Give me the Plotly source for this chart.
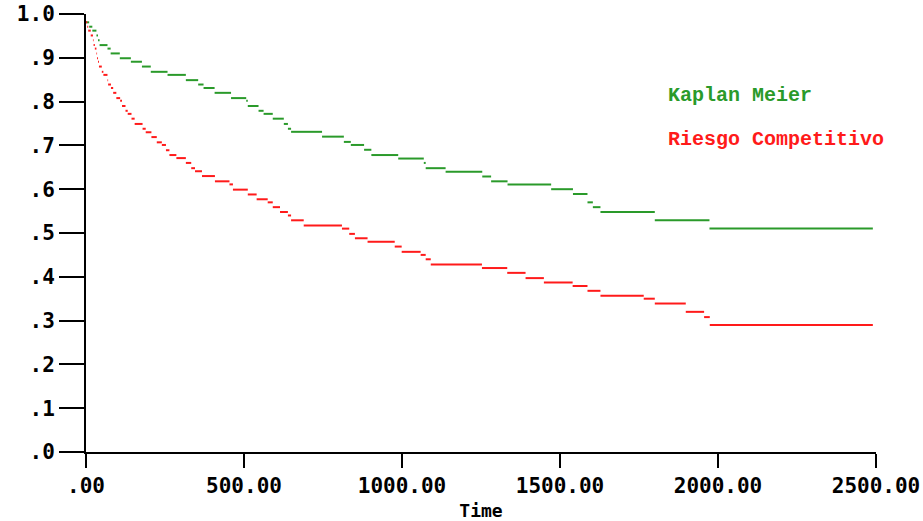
import plotly.graph_objects as go

# Kaplan Meier (green) step function: start times and survival values
km_times = [0, 10, 20, 33, 38, 43, 68, 78, 107, 142, 177, 205, 258, 316, 355, 372, 407, 459,
            507, 512, 546, 562, 591, 626, 639, 649, 747, 816, 838, 880, 903, 988, 1069, 1075,
            1138, 1254, 1282, 1334, 1472, 1541, 1587, 1604, 1628, 1800, 1973]
km_vals = [0.981, 0.971, 0.962, 0.951, 0.940, 0.929, 0.921, 0.910, 0.899, 0.891, 0.880, 0.868,
           0.861, 0.849, 0.839, 0.831, 0.820, 0.808, 0.802, 0.790, 0.779, 0.772, 0.761, 0.749,
           0.738, 0.731, 0.720, 0.708, 0.701, 0.690, 0.678, 0.670, 0.660, 0.648, 0.640, 0.629,
           0.618, 0.611, 0.600, 0.589, 0.570, 0.559, 0.548, 0.529, 0.510]

# Riesgo Competitivo (red) step function
rc_times = [0, 4, 7, 15, 22, 24, 28, 33, 35, 38, 41, 50, 55, 68, 70, 79, 86, 96, 108, 114, 125,
            132, 144, 154, 179, 189, 207, 224, 240, 253, 264, 286, 316, 333, 345, 367, 408, 454,
            465, 512, 540, 575, 591, 614, 639, 649, 689, 810, 833, 851, 891, 977, 999, 1059,
            1075, 1091, 1253, 1333, 1391, 1449, 1540, 1587, 1628, 1765, 1800, 1898, 1956, 1974]
rc_vals = [0.981, 0.971, 0.962, 0.951, 0.940, 0.929, 0.921, 0.910, 0.899, 0.891, 0.880, 0.868,
           0.861, 0.849, 0.839, 0.831, 0.820, 0.808, 0.802, 0.790, 0.779, 0.772, 0.761, 0.749,
           0.738, 0.730, 0.719, 0.707, 0.701, 0.689, 0.678, 0.671, 0.660, 0.648, 0.641, 0.630,
           0.618, 0.611, 0.599, 0.588, 0.577, 0.570, 0.559, 0.548, 0.540, 0.529, 0.517, 0.510,
           0.498, 0.488, 0.480, 0.469, 0.457, 0.450, 0.440, 0.428, 0.420, 0.409, 0.397, 0.387,
           0.379, 0.368, 0.357, 0.350, 0.339, 0.320, 0.308, 0.290]

end_time = 2490

x_ticks = [0, 500, 1000, 1500, 2000, 2500]
x_ticktext = [".00", "500.00", "1000.00", "1500.00", "2000.00", "2500.00"]
y_ticks = [0, 0.1, 0.2, 0.3, 0.4, 0.5, 0.6, 0.7, 0.8, 0.9, 1.0]
y_ticktext = [".0", ".1", ".2", ".3", ".4", ".5", ".6", ".7", ".8", ".9", "1.0"]


def segments(times, vals, end):
    xs, ys = [], []
    bounds = times[1:] + [end]
    for t0, t1, v in zip(times, bounds, vals):
        xs += [t0, t1, None]
        ys += [v, v, None]
    return xs, ys


GREEN = "#2a9a2a"
RED = "#ff1a1a"

fig = go.Figure()
kx, ky = segments(km_times, km_vals, end_time)
rx, ry = segments(rc_times, rc_vals, end_time)
fig.add_trace(go.Scatter(x=kx, y=ky, mode="lines", line=dict(color=GREEN, width=2),
                         name="Kaplan Meier", showlegend=False))
fig.add_trace(go.Scatter(x=rx, y=ry, mode="lines", line=dict(color=RED, width=2),
                         name="Riesgo Competitivo", showlegend=False))

legend_font = dict(family="Liberation Mono", size=20, weight="bold")
fig.add_annotation(x=1837, y=0.813, xref="x", yref="y", text="Kaplan Meier", showarrow=False,
                   xanchor="left", yanchor="middle", font=dict(color=GREEN, **legend_font))
fig.add_annotation(x=1837, y=0.713, xref="x", yref="y", text="Riesgo Competitivo",
                   showarrow=False, xanchor="left", yanchor="middle",
                   font=dict(color=RED, **legend_font))

tick_font = dict(family="DejaVu Sans Mono", size=21, color="black", weight="bold")
fig.update_layout(
    width=923, height=521,
    margin=dict(l=86, r=47, t=14, b=69),
    paper_bgcolor="white", plot_bgcolor="white",
    xaxis=dict(range=[0, 2500], tickvals=x_ticks, ticktext=x_ticktext, showgrid=False,
               zeroline=False, showline=True, linecolor="black", linewidth=2,
               ticks="outside", ticklen=14, tickwidth=2, tickcolor="black",
               tickfont=tick_font, automargin=False,
               title=dict(text="Time", font=dict(family="DejaVu Sans Mono", size=18,
                                                  color="black", weight="bold"), standoff=16)),
    yaxis=dict(range=[0, 1], tickvals=y_ticks, ticktext=y_ticktext, showgrid=False,
               zeroline=False, showline=True, linecolor="black", linewidth=2,
               ticks="outside", ticklen=25, tickwidth=2, tickcolor="black",
               tickfont=tick_font, automargin=False),
)

fig.write_html("out.html", config={"displayModeBar": False},
               post_script="document.body.style.margin='0';")
